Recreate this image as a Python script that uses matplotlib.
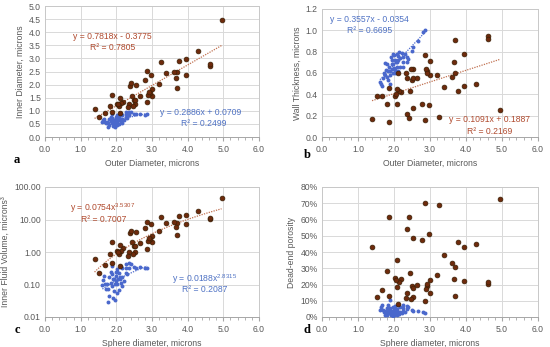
import numpy as np
import matplotlib
matplotlib.use('Agg')
import matplotlib.pyplot as plt
from matplotlib.ticker import MultipleLocator, FixedLocator, FuncFormatter

plt.rcParams['font.family'] = ['Liberation Sans', 'DejaVu Sans']
plt.rcParams['mathtext.fontset'] = 'custom'
plt.rcParams['mathtext.rm'] = 'Liberation Sans'

# red group: large particles
red_od = [4.95, 4.62, 4.62, 4.28, 3.94, 3.94, 3.69, 3.69, 3.66, 3.62, 3.77, 3.40, 3.24, 3.19, 2.99, 2.99,
          2.98, 2.93, 2.88, 2.91, 2.86, 2.85, 2.79, 2.53, 2.49, 2.52, 2.46, 2.44, 2.54, 2.65, 2.37, 2.41,
          2.35, 2.34, 2.19, 2.14, 2.08, 2.02, 2.05, 2.09, 2.10, 1.87, 1.81, 1.87, 1.68, 1.52, 1.39]
red_id = [4.45, 2.72, 2.78, 3.28, 2.38, 2.98, 1.87, 2.49, 2.26, 2.50, 2.91, 2.46, 2.86, 2.03, 1.57, 1.83,
          2.38, 1.69, 1.60, 1.71, 1.32, 2.53, 2.17, 1.25, 1.43, 1.42, 1.18, 1.58, 2.00, 1.55, 1.93, 2.05,
          1.25, 1.14, 1.35, 1.28, 1.18, 1.26, 1.25, 1.47, 0.90, 0.95, 1.19, 1.59, 0.92, 0.76, 1.05]
red_wall = [0.25, 0.95, 0.92, 0.50, 0.78, 0.48, 0.91, 0.60, 0.70, 0.56, 0.43, 0.47, 0.19, 0.58, 0.71, 0.58,
            0.30, 0.62, 0.64, 0.60, 0.77, 0.16, 0.31, 0.64, 0.53, 0.55, 0.64, 0.43, 0.27, 0.55, 0.22, 0.18,
            0.55, 0.60, 0.42, 0.43, 0.45, 0.38, 0.40, 0.31, 0.60, 0.46, 0.31, 0.14, 0.38, 0.38, 0.17]
red_vol = [46.1, 10.5, 11.2, 18.5, 7.06, 13.9, 3.42, 8.08, 6.04, 8.18, 12.9, 7.8, 12.2, 4.38, 2.03, 3.21,
           7.06, 2.53, 2.14, 2.62, 1.20, 8.48, 5.35, 1.02, 1.53, 1.50, 0.86, 2.06, 4.19, 1.95, 3.76, 4.51,
           1.02, 0.78, 1.29, 1.10, 0.86, 1.05, 1.02, 1.66, 0.38, 0.45, 0.88, 2.10, 0.41, 0.23, 0.61]
red_por = [72.7, 20.4, 21.8, 45.0, 22.0, 43.3, 13.0, 30.7, 23.5, 33.0, 46.0, 37.9, 68.8, 25.8, 14.5, 22.9,
           51.0, 19.2, 17.2, 20.3, 9.8, 70.0, 47.1, 12.1, 18.9, 17.9, 11.0, 27.2, 48.8, 20.0, 54.0, 61.6,
           15.0, 11.6, 23.4, 21.4, 18.3, 24.3, 22.7, 34.8, 7.9, 13.1, 28.4, 61.4, 16.4, 12.5, 43.1]

# blue group: small particles
blue_od = [2.86, 2.81, 2.67, 2.54, 2.49, 2.21, 2.15, 2.07, 2.01, 2.26, 2.35, 2.17, 2.03, 1.94, 2.09, 2.26,
           1.80, 1.98, 1.87, 2.07, 2.17, 1.94, 2.03, 1.84, 1.78, 1.98, 2.12, 1.89, 1.75, 1.69, 1.84, 1.61,
           1.66, 1.89, 2.03, 1.80, 2.26, 2.40, 2.35, 1.92, 2.12, 1.72, 1.95, 2.05, 1.64, 2.00, 2.30, 1.90,
           2.10, 1.76, 1.96]
blue_id = [0.86, 0.85, 0.87, 0.86, 0.87, 0.63, 0.55, 0.51, 0.47, 0.76, 0.85, 0.69, 0.59, 0.50, 0.69, 0.86,
           0.44, 0.62, 0.55, 0.75, 0.85, 0.66, 0.77, 0.60, 0.52, 0.78, 0.88, 0.73, 0.59, 0.59, 0.78, 0.57,
           0.70, 0.89, 0.83, 0.68, 0.94, 0.94, 0.95, 0.42, 0.60, 0.52, 0.59, 0.65, 0.64, 0.70, 0.74, 0.66,
           0.66, 0.38, 0.40]
blue_wall = [1.00, 0.98, 0.90, 0.84, 0.81, 0.79, 0.80, 0.78, 0.77, 0.75, 0.75, 0.74, 0.72, 0.72, 0.70, 0.70,
             0.68, 0.68, 0.66, 0.66, 0.66, 0.64, 0.63, 0.62, 0.63, 0.60, 0.62, 0.58, 0.58, 0.55, 0.53, 0.52,
             0.48, 0.50, 0.60, 0.56, 0.66, 0.73, 0.70, 0.75, 0.76, 0.60, 0.68, 0.70, 0.50, 0.65, 0.78, 0.62,
             0.72, 0.69, 0.78]
blue_vol = [0.333, 0.322, 0.345, 0.333, 0.345, 0.131, 0.087, 0.069, 0.054, 0.230, 0.322, 0.172, 0.107, 0.065,
            0.172, 0.333, 0.045, 0.125, 0.087, 0.221, 0.322, 0.151, 0.239, 0.113, 0.074, 0.248, 0.357, 0.204,
            0.107, 0.107, 0.248, 0.097, 0.180, 0.369, 0.299, 0.165, 0.435, 0.435, 0.449, 0.039, 0.113, 0.074,
            0.107, 0.144, 0.137, 0.180, 0.212, 0.151, 0.151, 0.029, 0.034]
blue_por = [2.7, 2.8, 3.5, 3.9, 4.3, 2.3, 1.7, 1.5, 1.3, 3.8, 4.7, 3.2, 2.5, 1.7, 3.6, 5.5, 1.5, 3.1, 2.5, 4.8,
            6.0, 3.9, 5.5, 3.5, 2.5, 6.1, 7.2, 5.8, 3.8, 4.3, 7.6, 4.4, 7.5, 10.4, 6.8, 5.4, 7.2, 6.0, 6.6,
            1.0, 2.3, 2.8, 2.8, 3.2, 5.9, 4.3, 3.3, 4.2, 3.1, 1.0, 0.8]

# trendline coefficients as printed on the chart
fit_a_red = (0.7818, -0.3775)
fit_a_blue = (0.2886, 0.0709)
fit_b_red = (0.1091, 0.1887)
fit_b_blue = (0.3557, -0.0354)
fit_c_red = (0.0754, 3.5307)
fit_c_blue = (0.0188, 2.8315)

RED = '#6e2a0c'
RED_EDGE = '#3a2006'
RED_TXT = '#b04a2e'
RED_LINE = '#c07050'
BLUE = '#4a68cc'
BLUE_TXT = '#4f72c4'
TICK = '#595959'
GRID = '#d9d9d9'
FS = 6.2

fig = plt.figure(figsize=(5.5, 3.47), dpi=100)
W, H = 550, 347


def add_ax(l, r, t, b):
    return fig.add_axes([l / W, 1 - b / H, (r - l) / W, (b - t) / H])


def style(ax, xlabel, ylabel):
    ax.set_xlim(0, 6)
    ax.xaxis.set_major_locator(MultipleLocator(1))
    ax.xaxis.set_minor_locator(MultipleLocator(0.2))
    ax.xaxis.set_major_formatter(FuncFormatter(lambda v, p: f'{v:.1f}'))
    ax.grid(True, which='major', color=GRID, lw=0.7)
    ax.set_axisbelow(True)
    for s in ax.spines.values():
        s.set_color('#c8c8c8')
        s.set_linewidth(0.7)
    ax.spines['bottom'].set_color('#a6a6a6')
    ax.tick_params(axis='x', which='major', direction='out', length=3, color='#a6a6a6',
                   labelsize=FS, labelcolor=TICK, pad=3)
    ax.tick_params(axis='x', which='minor', direction='out', length=2, color='#a6a6a6')
    ax.tick_params(axis='y', which='both', length=0, labelsize=FS, labelcolor=TICK, pad=3)
    ax.set_xlabel(xlabel, fontsize=FS, color=TICK, labelpad=3)
    ax.set_ylabel(ylabel, fontsize=FS, color=TICK, labelpad=3)


def scatter_groups(ax, ry, by):
    ax.scatter(blue_od, by, s=8, c=BLUE, lw=0, zorder=3)
    ax.scatter(red_od, ry, s=12, c=RED, edgecolors=RED_EDGE, linewidths=0.5, zorder=4)


def label(ax, x, y, s, color):
    ax.text(x, y, s, color=color, fontsize=FS, ha='center', va='center', zorder=5)


def letter(x, y, s):
    fig.text(x / W, 1 - y / H, s, fontsize=9, fontweight='bold', family='Liberation Serif',
             ha='center', va='center')


# panel a
ax = add_ax(45, 259, 6, 137)
style(ax, 'Outer Diameter, microns', 'Inner Diameter, microns')
ax.set_ylim(0, 5)
ax.yaxis.set_major_locator(MultipleLocator(0.5))
ax.yaxis.set_major_formatter(FuncFormatter(lambda v, p: f'{v:.1f}'))
scatter_groups(ax, red_id, blue_id)
xr = np.array([min(red_od), max(red_od)])
xb = np.array([min(blue_od), max(blue_od)])
ax.plot(xr, np.polyval(fit_a_red, xr), ls=(0, (1, 1)), color=RED_LINE, lw=0.9, zorder=2)
ax.plot(xb, np.polyval(fit_a_blue, xb), ls=(0, (1, 1)), color=BLUE, lw=0.9, zorder=2)
label(ax, 1.88, 3.85, 'y = 0.7818x - 0.3775', RED_TXT)
label(ax, 1.9, 3.43, 'R² = 0.7805', RED_TXT)
label(ax, 4.35, 0.92, 'y = 0.2886x + 0.0709', BLUE_TXT)
label(ax, 4.45, 0.53, 'R² = 0.2499', BLUE_TXT)
letter(17, 160, 'a')

# panel b
ax = add_ax(322, 538, 9, 137)
style(ax, 'Outer Diameter, microns', 'Wall Thickness, microns')
ax.set_ylim(0, 1.2)
ax.yaxis.set_major_locator(MultipleLocator(0.2))
ax.yaxis.set_major_formatter(FuncFormatter(lambda v, p: f'{v:.1f}'))
scatter_groups(ax, red_wall, blue_wall)
ax.plot(xr, np.polyval(fit_b_red, xr), ls=(0, (1, 1)), color=RED_LINE, lw=0.9, zorder=2)
ax.plot(xb, np.polyval(fit_b_blue, xb), ls=(0, (1, 1)), color=BLUE, lw=0.9, zorder=2)
label(ax, 1.31, 1.105, 'y = 0.3557x - 0.0354', BLUE_TXT)
label(ax, 1.33, 1.0, 'R² = 0.6695', BLUE_TXT)
label(ax, 4.64, 0.16, 'y = 0.1091x + 0.1887', RED_TXT)
label(ax, 4.66, 0.05, 'R² = 0.2169', RED_TXT)
letter(307, 155, 'b')

# panel c
ax = add_ax(45, 259, 187, 317)
style(ax, 'Sphere diameter, microns', 'Inner Fluid Volume, microns³')
ax.set_yscale('log')
ax.set_ylim(0.01, 100)
ax.yaxis.set_major_locator(FixedLocator([0.01, 0.1, 1, 10, 100]))
ax.yaxis.set_major_formatter(FuncFormatter(lambda v, p: f'{v:.2f}'))
ax.yaxis.set_minor_locator(FixedLocator([]))
scatter_groups(ax, red_vol, blue_vol)
xr_c = np.linspace(min(red_od), max(red_od), 60)
xb_c = np.linspace(min(blue_od), max(blue_od), 60)
ax.plot(xr_c, fit_c_red[0] * xr_c ** fit_c_red[1], ls=(0, (1, 1)), color=RED_LINE, lw=0.9, zorder=2)
ax.plot(xb_c, fit_c_blue[0] * xb_c ** fit_c_blue[1], ls=(0, (1, 1)), color=BLUE, lw=0.9, zorder=2)
label(ax, 1.6, 22, 'y = 0.0754x$^{3.5307}$', RED_TXT)
label(ax, 1.65, 10.2, 'R² = 0.7007', RED_TXT)
label(ax, 4.47, 0.15, 'y = 0.0188x$^{2.8315}$', BLUE_TXT)
label(ax, 4.47, 0.07, 'R² = 0.2087', BLUE_TXT)
letter(17, 330, 'c')

# panel d
ax = add_ax(322, 538, 187, 317)
style(ax, 'Sphere diameter, microns', 'Dead-end porosity')
ax.set_ylim(0, 80)
ax.yaxis.set_major_locator(MultipleLocator(10))
ax.yaxis.set_major_formatter(FuncFormatter(lambda v, p: f'{v:.0f}%'))
scatter_groups(ax, red_por, blue_por)
letter(307, 330, 'd')

fig.savefig('out.png', dpi=100)
